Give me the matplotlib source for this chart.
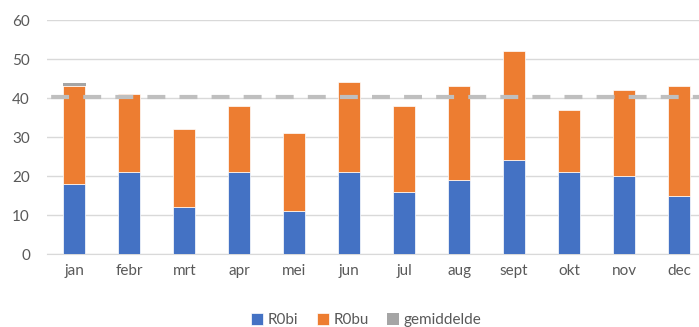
import matplotlib.pyplot as plt
import numpy as np

# monthly values
maanden = ['jan', 'febr', 'mrt', 'apr', 'mei', 'jun', 'jul', 'aug', 'sept', 'okt', 'nov', 'dec']
r0bi = [18, 21, 12, 21, 11, 21, 16, 19, 24, 21, 20, 15]
r0bu = [25, 20, 20, 17, 20, 23, 22, 24, 28, 16, 22, 28]
# small gemiddelde segment shown on top of the first bar
gem_stuk = [0.85, 0, 0, 0, 0, 0, 0, 0, 0, 0, 0, 0]

blauw = '#4472C4'
oranje = '#ED7D31'
grijs = '#A5A5A5'

plt.rcParams['font.family'] = ['Lato', 'DejaVu Sans']

totaal = np.array(r0bi) + np.array(r0bu)
gemiddelde = totaal.mean()

fig = plt.figure(figsize=(6.99, 3.27), dpi=100)
ax = fig.add_axes([0.0668, 0.2232, 0.9442, 0.7156])

x = np.arange(len(maanden))
w = 0.39
ax.bar(x, r0bi, w, color=blauw, edgecolor='white', linewidth=0.5, zorder=3, label='R0bi')
ax.bar(x, r0bu, w, bottom=r0bi, color=oranje, edgecolor='white', linewidth=0.5, zorder=3, label='R0bu')
ax.bar(x, gem_stuk, 0.42, bottom=totaal, color=grijs, zorder=3)

# average line across the whole plot
ax.axhline(gemiddelde, color='#BFBFBF', linewidth=3, linestyle=(6.7, (4.3, 3.4)),
           dash_capstyle='butt', zorder=4)
# legend handle for the average
ax.bar([0], [0], color=grijs, label='gemiddelde')

ax.set_xlim(-0.5, 11.5)
ax.set_ylim(0, 60)
ax.set_yticks(range(0, 61, 10))
ax.set_xticks(x)
ax.set_xticklabels(maanden)
ax.grid(axis='y', color='#D9D9D9', linewidth=1, zorder=0)
for s in ['top', 'right', 'left']:
    ax.spines[s].set_visible(False)
ax.spines['bottom'].set_color('#D9D9D9')
ax.tick_params(axis='both', length=0, labelsize=11, labelcolor='#595959')
ax.tick_params(axis='y', pad=12)
ax.tick_params(axis='x', pad=7)

fig.legend(loc='center', bbox_to_anchor=(0.524, 0.021), ncol=3, frameon=False,
           fontsize=11, labelcolor='#595959', handlelength=0.8, handleheight=0.8,
           handletextpad=0.3, columnspacing=1.2)

fig.savefig('out.png', dpi=100)
